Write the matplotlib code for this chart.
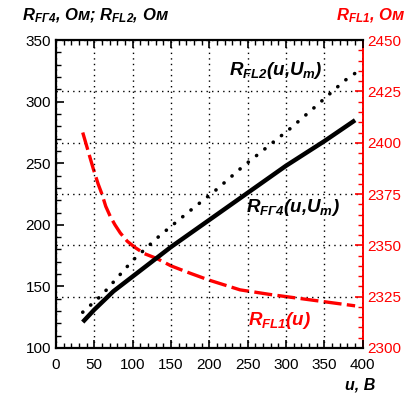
import matplotlib
matplotlib.use("Agg")
import matplotlib.pyplot as plt
from matplotlib.ticker import MultipleLocator

plt.rcParams['font.family'] = ['Liberation Sans', 'DejaVu Sans']
plt.rcParams['mathtext.fontset'] = 'custom'
plt.rcParams['mathtext.it'] = 'Liberation Sans:bold:italic'
plt.rcParams['mathtext.rm'] = 'Liberation Sans:bold:italic'
plt.rcParams['mathtext.bf'] = 'Liberation Sans:bold:italic'
plt.rcParams['mathtext.sf'] = 'Liberation Sans:bold:italic'

# Data
u_g4 = [35, 50, 75, 100, 150, 200, 250, 300, 350, 390]
r_g4 = [121, 131, 146, 158, 182, 204, 226, 248, 268, 285]

u_fl2 = [35, 60, 100, 135, 172, 210, 243, 275, 305, 340, 376, 392]
r_fl2 = [129, 143, 171, 191, 210, 229, 247, 263, 278, 297, 317, 324]

u_fl1 = [35, 42, 49, 55, 60, 65, 71, 77, 84, 93, 103, 115, 132, 150, 175, 200, 240, 280, 320, 360, 390]
r_fl1 = [2405, 2396, 2387, 2380, 2375, 2369, 2364, 2360, 2356, 2352, 2349, 2346, 2343.5, 2340, 2336.4, 2333, 2328.3, 2326, 2324, 2322, 2320.5]

xticks = [0, 50, 100, 150, 200, 250, 300, 350, 400]
yticks_left = [100, 150, 200, 250, 300, 350]
yticks_right = [2300, 2325, 2350, 2375, 2400, 2425, 2450]

fig = plt.figure(figsize=(4.17, 3.94), dpi=100)
ax = fig.add_axes([0.134, 0.117, 0.736, 0.781])
ax2 = ax.twinx()

ax.set_xlim(0, 400)
ax.set_ylim(100, 350)
ax2.set_ylim(2300, 2450)

ax.set_xticks(xticks)
ax.set_yticks(yticks_left)
ax2.set_yticks(yticks_right)
ax.xaxis.set_minor_locator(MultipleLocator(10))
ax.yaxis.set_minor_locator(MultipleLocator(10))
ax2.yaxis.set_minor_locator(MultipleLocator(5))

ax.tick_params(axis='x', which='both', direction='in', top=True, labelsize=11, pad=7)
ax.tick_params(axis='y', which='both', direction='in', right=False, labelsize=11)
ax.tick_params(which='major', length=6, width=1.2)
ax.tick_params(which='minor', length=3.5, width=1.0)
ax2.tick_params(axis='y', which='both', direction='in', colors='red', labelsize=11)
ax2.tick_params(which='major', length=6, width=1.2)
ax2.tick_params(which='minor', length=3.5, width=1.0)

for s in ['left', 'bottom', 'top']:
    ax.spines[s].set_linewidth(1.6)
for s in ['left', 'bottom', 'top']:
    ax2.spines[s].set_visible(False)
ax2.spines['right'].set_color('red')
ax2.spines['right'].set_linewidth(1.4)
ax.spines['right'].set_visible(False)

# Grid: vertical at x majors, horizontal at right-axis majors
ax.xaxis.grid(True, linestyle=(0, (1, 3)), color='black', linewidth=1.0)
ax2.yaxis.grid(True, linestyle=(0, (1, 3)), color='black', linewidth=1.0)
ax.set_zorder(ax2.get_zorder() + 1)
ax.patch.set_visible(False)

ax2.plot(u_fl1, r_fl1, color='red', linewidth=2.4, linestyle=(0, (5.4, 1.6)))
ax.plot(u_g4, r_g4, color='black', linewidth=3.2, solid_capstyle='butt')
ax.plot(u_fl2, r_fl2, color='black', linewidth=2.6, linestyle=(0, (0.05, 2.9)), dash_capstyle='round')

ax.text(226, 325, r'$R_{FL2}(u{,}U_m)$', fontsize=13.5, ha='left', va='center')
ax.text(248, 214, r'$R_{FГ4}(u{,}U_m)$', fontsize=13.5, ha='left', va='center')
ax.text(250, 122, r'$R_{FL1}(u)$', fontsize=13.5, color='red', ha='left', va='center')

ax.text(-0.11, 1.08, r'$R_{FГ4}$, Ом; $R_{FL2}$, Ом', transform=ax.transAxes,
        fontsize=12, fontweight='bold', fontstyle='italic', ha='left', va='center')
ax.text(1.14, 1.08, r'$R_{FL1}$, Ом', transform=ax.transAxes, color='red',
        fontsize=12, fontweight='bold', fontstyle='italic', ha='right', va='center')
ax.text(1.04, -0.12, 'u, B', transform=ax.transAxes,
        fontsize=11.5, fontweight='bold', fontstyle='italic', ha='right', va='center')

plt.savefig('out.png', dpi=100)
